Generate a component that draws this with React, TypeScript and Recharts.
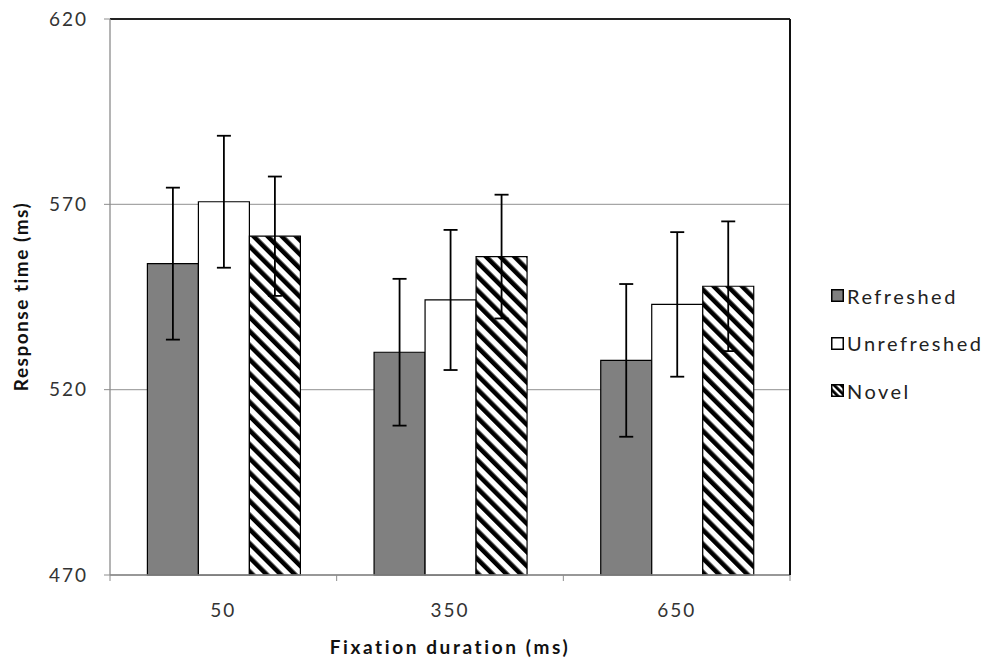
import React from "react"
import {
  BarChart, Bar, XAxis, YAxis, CartesianGrid, ErrorBar, Label,
} from "recharts"

// Mean response time per condition, with error bar half-lengths
const durations = ["50", "350", "650"]
const refreshed = [554.0, 530.1, 527.9]
const refreshedErr = [20.5, 19.8, 20.6]
const unrefreshed = [570.7, 544.2, 543.0]
const unrefreshedErr = [17.8, 18.9, 19.5]
const novel = [561.4, 555.9, 547.9]
const novelErr = [16.1, 16.7, 17.5]
const yTicks = [470, 520, 570, 620]

const data = durations.map((d, i) => ({
  duration: d,
  refreshed: refreshed[i],
  refreshedErr: refreshedErr[i],
  unrefreshed: unrefreshed[i],
  unrefreshedErr: unrefreshedErr[i],
  novel: novel[i],
  novelErr: novelErr[i],
}))

const W = 990
const H = 663
const MARGIN = { top: 18, right: 199, left: 0, bottom: 0 }
const Y_AXIS_W = 110
const X_AXIS_H = 88
const PLOT_W = W - MARGIN.left - MARGIN.right - Y_AXIS_W - 1
const PLOT_H = H - MARGIN.top - MARGIN.bottom - X_AXIS_H
const BAND = PLOT_W / durations.length

const FONT = "Lato, 'Open Sans', sans-serif"
const AXIS_GRAY = "#8c8c8c"

const LEGEND = [
  { label: "Refreshed", fill: "#808080" },
  { label: "Unrefreshed", fill: "#ffffff" },
  { label: "Novel", fill: "url(#hatchSmall)" },
]

function XTick(props: any) {
  const { x, y, payload, index } = props
  const left = x - BAND / 2
  return (
    <g>
      <line x1={left} x2={left} y1={y} y2={y + 6} stroke={AXIS_GRAY} />
      {index === durations.length - 1 && (
        <line x1={x + BAND / 2} x2={x + BAND / 2} y1={y} y2={y + 6} stroke={AXIS_GRAY} />
      )}
      <text x={x} y={y + 42} textAnchor="middle" fontSize={19} letterSpacing={2}
        fill="#333" fontFamily={FONT}>
        {payload.value}
      </text>
    </g>
  )
}

function LegendBox() {
  return (
    <div style={{
      position: "absolute", left: 831, top: 272, fontFamily: FONT, fontSize: 20,
      color: "#222", letterSpacing: 2.5,
    }}>
      <svg width={0} height={0} style={{ position: "absolute" }}>
        <defs>
          <pattern id="hatchSmall" width={5} height={5} patternUnits="userSpaceOnUse" patternTransform="rotate(-45)">
            <rect x={0} y={0} width={5} height={5} fill="#fff" />
            <rect x={0} y={0} width={2.8} height={5} fill="#000" />
          </pattern>
        </defs>
      </svg>
      {LEGEND.map((it) => (
        <div key={it.label} style={{ display: "flex", alignItems: "center", height: 47.5 }}>
          <svg width={13} height={13} style={{ marginRight: 3 }}>
            <rect x={0.75} y={0.75} width={11.5} height={11.5} fill={it.fill}
              stroke="#000" strokeWidth={1.5} />
          </svg>
          <span>{it.label}</span>
        </div>
      ))}
    </div>
  )
}

export default function App() {
  return (
    <div style={{ position: "absolute", left: 0, top: 0, width: W, height: H, background: "#fff" }}>
      <BarChart
        width={W}
        height={H}
        data={data}
        margin={MARGIN}
        barCategoryGap="16.5%"
        barGap={0}
      >
        <defs>
          <pattern id="hatch" width={10} height={10} patternUnits="userSpaceOnUse" patternTransform="rotate(-45)">
            <rect x={0} y={0} width={10} height={10} fill="#fff" />
            <rect x={0} y={0} width={4.6} height={10} fill="#000" />
          </pattern>
        </defs>
        <CartesianGrid vertical={false} stroke="#a6a6a6" strokeWidth={1.3} />
        <XAxis
          dataKey="duration"
          height={X_AXIS_H}
          axisLine={{ stroke: AXIS_GRAY, strokeWidth: 1.3 }}
          tickLine={false}
          tickSize={0}
          tickMargin={0}
          interval={0}
          tick={<XTick />}
        >
          <Label
            content={() => (
              <text x={MARGIN.left + Y_AXIS_W + PLOT_W / 2} y={654} textAnchor="middle"
                fontSize={19} fontWeight={700} letterSpacing={2.6} fill="#111" fontFamily={FONT}>
                Fixation duration (ms)
              </text>
            )}
          />
        </XAxis>
        {/* frame: top and right edges of the plot */}
        <XAxis xAxisId="top" orientation="top" dataKey="duration" height={1}
          tick={false} tickLine={false} axisLine={{ stroke: "#222", strokeWidth: 2 }} />
        <YAxis
          domain={[470, 620]}
          ticks={yTicks}
          width={Y_AXIS_W}
          axisLine={{ stroke: AXIS_GRAY, strokeWidth: 1.3 }}
          tickLine={{ stroke: AXIS_GRAY }}
          tickSize={6}
          tickMargin={16}
          tick={{ fontSize: 19, fill: "#333", fontFamily: FONT, letterSpacing: 2 }}
        >
          <Label
            content={() => (
              <text x={28} y={MARGIN.top + PLOT_H / 2} textAnchor="middle"
                transform={`rotate(-90 28 ${MARGIN.top + PLOT_H / 2})`}
                fontSize={19} fontWeight={700} letterSpacing={1.5} fill="#111" fontFamily={FONT}>
                Response time (ms)
              </text>
            )}
          />
        </YAxis>
        <YAxis yAxisId="right" orientation="right" domain={[470, 620]} width={1}
          tick={false} tickLine={false} axisLine={{ stroke: "#111", strokeWidth: 2 }} />
        <Bar dataKey="refreshed" fill="#808080" stroke="#000" strokeWidth={1.2} isAnimationActive={false}>
          <ErrorBar dataKey="refreshedErr" width={7} stroke="#000" strokeWidth={1.8} />
        </Bar>
        <Bar dataKey="unrefreshed" fill="#ffffff" stroke="#000" strokeWidth={1.2} isAnimationActive={false}>
          <ErrorBar dataKey="unrefreshedErr" width={7} stroke="#000" strokeWidth={1.8} />
        </Bar>
        <Bar dataKey="novel" fill="url(#hatch)" stroke="#000" strokeWidth={1.2} isAnimationActive={false}>
          <ErrorBar dataKey="novelErr" width={7} stroke="#000" strokeWidth={1.8} />
        </Bar>
      </BarChart>
      <LegendBox />
    </div>
  )
}
